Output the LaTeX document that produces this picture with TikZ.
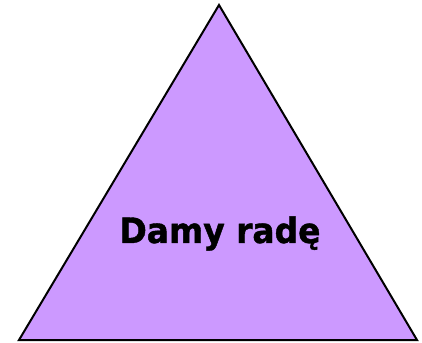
\documentclass[tikz,border=0pt]{standalone}
\usepackage{fontspec}
\newfontfamily\labelfont[FakeStretch=0.94,FakeBold=1.2]{DejaVu Sans Bold}
\definecolor{trifill}{HTML}{CC99FF}
\tikzset{tri/.style={draw=black, line width=2pt, fill=trifill, line join=miter},
  lbl/.style={font=\labelfont\fontsize{35}{40}\selectfont, anchor=base, inner sep=0pt}}
\begin{document}
\begin{tikzpicture}[x=1pt,y=1pt]
\useasboundingbox (0,0) rectangle (422,342);
\coordinate (apex) at (219,337);
\coordinate (bl) at (19,2);
\coordinate (br) at (417,2);
\draw[tri] (apex) -- (br) -- (bl) -- cycle;
\node[lbl] (t) at (220,99) {Damy radę};
\end{tikzpicture}
\end{document}
